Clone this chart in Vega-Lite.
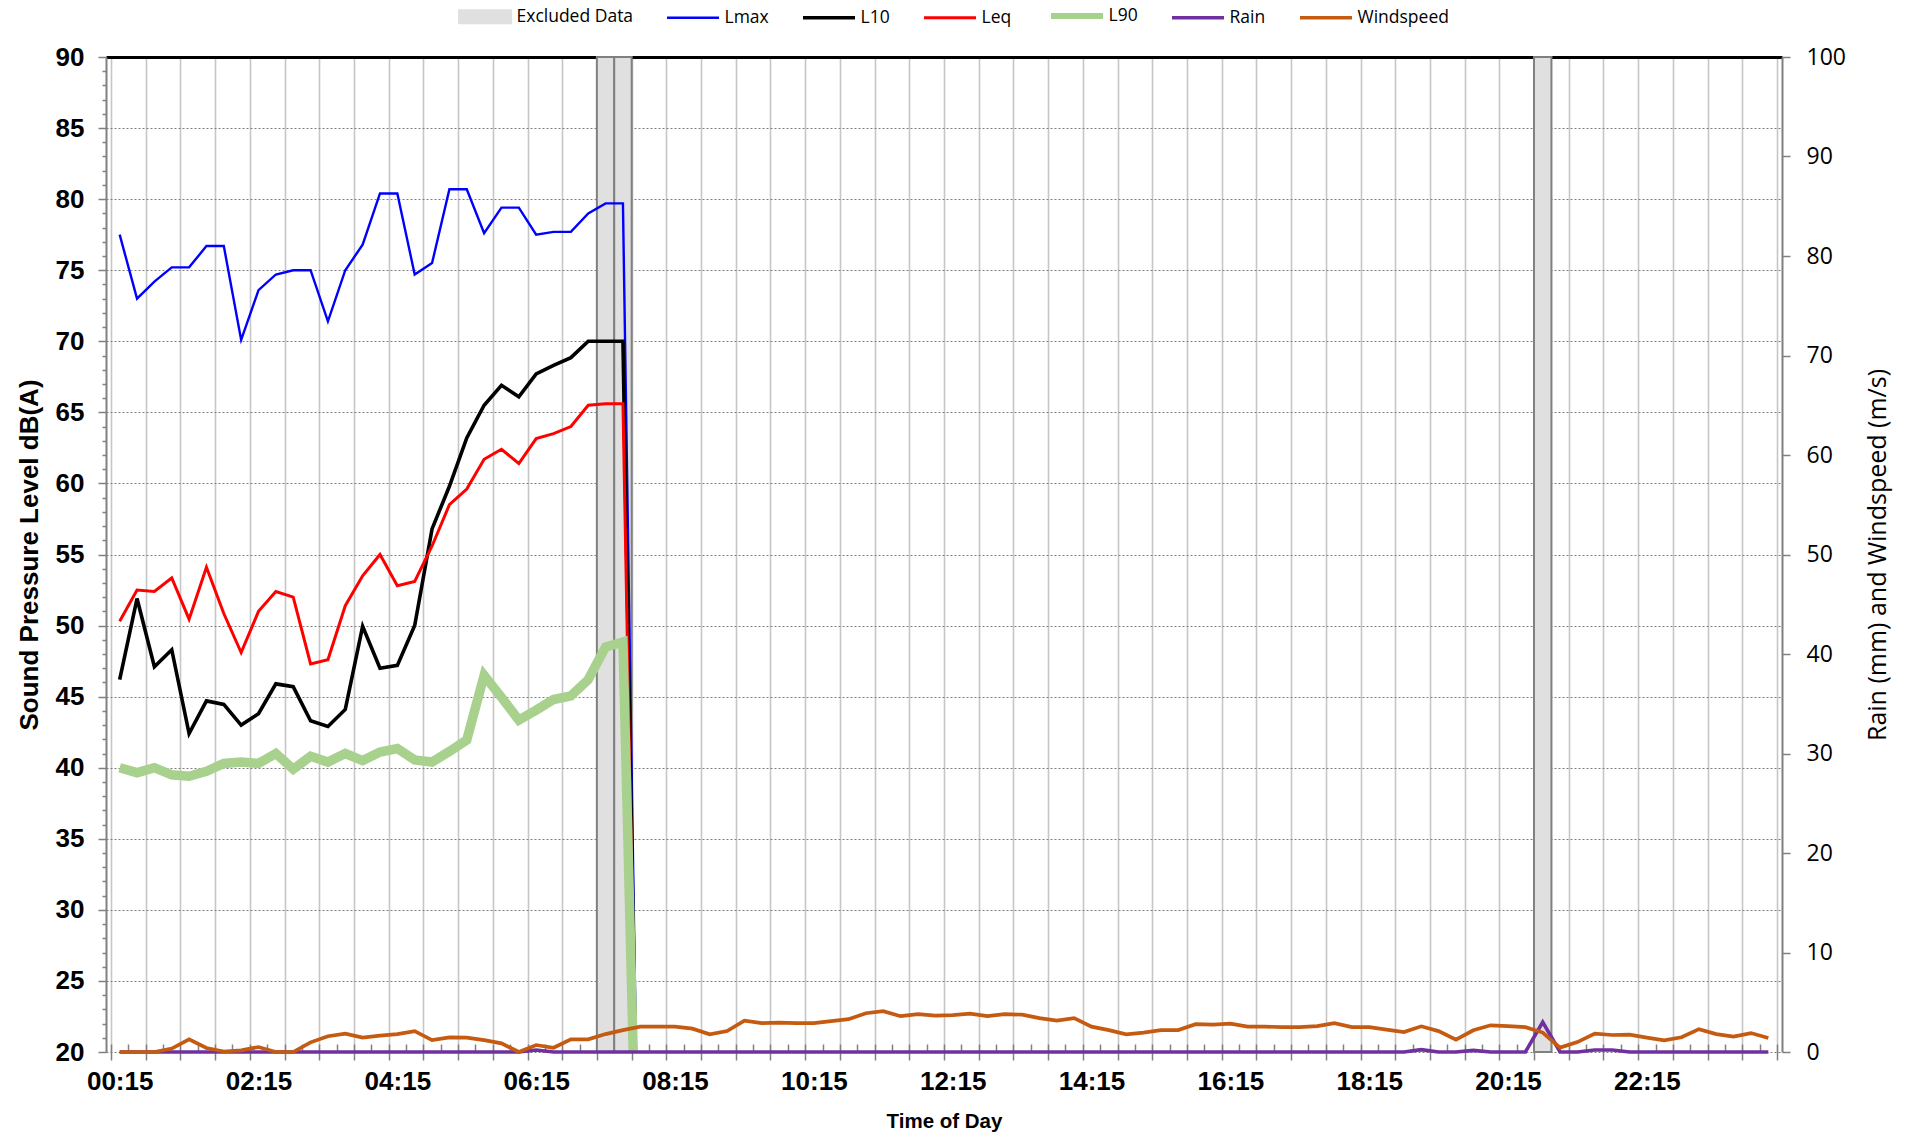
{
  "$schema": "https://vega.github.io/schema/vega-lite/v6.json",
  "width": 1676,
  "height": 995,
  "autosize": {"type": "none"},
  "padding": {"left": 106, "top": 57, "right": 123, "bottom": 88},
  "background": "white",
  "config": {"view": {"stroke": null}, "font": "Liberation Sans"},
  "data": {"values": [
    {"minute":15,"Lmax":77.5,"L10":46.2,"Leq":50.3,"L90":40,"Rain":0,"Windspeed":0},
    {"minute":30,"Lmax":73,"L10":51.9,"Leq":52.5,"L90":39.65,"Rain":0,"Windspeed":0},
    {"minute":45,"Lmax":74.2,"L10":47.1,"Leq":52.4,"L90":40,"Rain":0,"Windspeed":0},
    {"minute":60,"Lmax":75.2,"L10":48.3,"Leq":53.35,"L90":39.5,"Rain":0,"Windspeed":0.35},
    {"minute":75,"Lmax":75.2,"L10":42.4,"Leq":50.45,"L90":39.4,"Rain":0,"Windspeed":1.27},
    {"minute":90,"Lmax":76.7,"L10":44.7,"Leq":54.1,"L90":39.75,"Rain":0,"Windspeed":0.4},
    {"minute":105,"Lmax":76.7,"L10":44.45,"Leq":50.85,"L90":40.3,"Rain":0,"Windspeed":0.05},
    {"minute":120,"Lmax":70.1,"L10":43,"Leq":48.1,"L90":40.4,"Rain":0,"Windspeed":0.17},
    {"minute":135,"Lmax":73.6,"L10":43.8,"Leq":51,"L90":40.3,"Rain":0,"Windspeed":0.5},
    {"minute":150,"Lmax":74.7,"L10":45.9,"Leq":52.4,"L90":41,"Rain":0,"Windspeed":0},
    {"minute":165,"Lmax":75,"L10":45.7,"Leq":52,"L90":39.9,"Rain":0,"Windspeed":0},
    {"minute":180,"Lmax":75,"L10":43.3,"Leq":47.3,"L90":40.8,"Rain":0,"Windspeed":0.97},
    {"minute":195,"Lmax":71.4,"L10":42.9,"Leq":47.6,"L90":40.4,"Rain":0,"Windspeed":1.58},
    {"minute":210,"Lmax":75,"L10":44.1,"Leq":51.4,"L90":41,"Rain":0,"Windspeed":1.85},
    {"minute":225,"Lmax":76.8,"L10":49.95,"Leq":53.5,"L90":40.5,"Rain":0,"Windspeed":1.44},
    {"minute":240,"Lmax":80.4,"L10":47,"Leq":55,"L90":41.1,"Rain":0,"Windspeed":1.64},
    {"minute":255,"Lmax":80.4,"L10":47.2,"Leq":52.8,"L90":41.35,"Rain":0,"Windspeed":1.8},
    {"minute":270,"Lmax":74.7,"L10":50,"Leq":53.1,"L90":40.55,"Rain":0,"Windspeed":2.1},
    {"minute":285,"Lmax":75.5,"L10":56.8,"Leq":55.6,"L90":40.4,"Rain":0,"Windspeed":1.2},
    {"minute":300,"Lmax":80.7,"L10":59.8,"Leq":58.5,"L90":41.15,"Rain":0,"Windspeed":1.47},
    {"minute":315,"Lmax":80.7,"L10":63.2,"Leq":59.6,"L90":41.95,"Rain":0,"Windspeed":1.45},
    {"minute":330,"Lmax":77.6,"L10":65.5,"Leq":61.7,"L90":46.5,"Rain":0,"Windspeed":1.2},
    {"minute":345,"Lmax":79.4,"L10":66.9,"Leq":62.4,"L90":44.95,"Rain":0,"Windspeed":0.87},
    {"minute":360,"Lmax":79.4,"L10":66.1,"Leq":61.4,"L90":43.35,"Rain":0,"Windspeed":0},
    {"minute":375,"Lmax":77.5,"L10":67.7,"Leq":63.15,"L90":44.05,"Rain":0.2,"Windspeed":0.7},
    {"minute":390,"Lmax":77.7,"L10":68.3,"Leq":63.5,"L90":44.8,"Rain":0,"Windspeed":0.43},
    {"minute":405,"Lmax":77.7,"L10":68.85,"Leq":64,"L90":45.05,"Rain":0,"Windspeed":1.27},
    {"minute":420,"Lmax":79,"L10":70,"Leq":65.5,"L90":46.2,"Rain":0,"Windspeed":1.27},
    {"minute":435,"Lmax":79.7,"L10":70,"Leq":65.6,"L90":48.5,"Rain":0,"Windspeed":1.8,"Excluded":100},
    {"minute":450,"Lmax":79.7,"L10":70,"Leq":65.6,"L90":48.85,"Rain":0,"Windspeed":2.2,"Excluded":100},
    {"minute":465,"Lmax":0,"L10":0,"Leq":0,"L90":0,"Rain":0,"Windspeed":2.55},
    {"minute":480,"Lmax":0,"L10":0,"Leq":0,"L90":0,"Rain":0,"Windspeed":2.55},
    {"minute":495,"Lmax":0,"L10":0,"Leq":0,"L90":0,"Rain":0,"Windspeed":2.55},
    {"minute":510,"Lmax":0,"L10":0,"Leq":0,"L90":0,"Rain":0,"Windspeed":2.35},
    {"minute":525,"Lmax":0,"L10":0,"Leq":0,"L90":0,"Rain":0,"Windspeed":1.78},
    {"minute":540,"Lmax":0,"L10":0,"Leq":0,"L90":0,"Rain":0,"Windspeed":2.1},
    {"minute":555,"Lmax":0,"L10":0,"Leq":0,"L90":0,"Rain":0,"Windspeed":3.15},
    {"minute":570,"Lmax":0,"L10":0,"Leq":0,"L90":0,"Rain":0,"Windspeed":2.9},
    {"minute":585,"Lmax":0,"L10":0,"Leq":0,"L90":0,"Rain":0,"Windspeed":2.95},
    {"minute":600,"Lmax":0,"L10":0,"Leq":0,"L90":0,"Rain":0,"Windspeed":2.9},
    {"minute":615,"Lmax":0,"L10":0,"Leq":0,"L90":0,"Rain":0,"Windspeed":2.9},
    {"minute":630,"Lmax":0,"L10":0,"Leq":0,"L90":0,"Rain":0,"Windspeed":3.1},
    {"minute":645,"Lmax":0,"L10":0,"Leq":0,"L90":0,"Rain":0,"Windspeed":3.3},
    {"minute":660,"Lmax":0,"L10":0,"Leq":0,"L90":0,"Rain":0,"Windspeed":3.9},
    {"minute":675,"Lmax":0,"L10":0,"Leq":0,"L90":0,"Rain":0,"Windspeed":4.1},
    {"minute":690,"Lmax":0,"L10":0,"Leq":0,"L90":0,"Rain":0,"Windspeed":3.6},
    {"minute":705,"Lmax":0,"L10":0,"Leq":0,"L90":0,"Rain":0,"Windspeed":3.8},
    {"minute":720,"Lmax":0,"L10":0,"Leq":0,"L90":0,"Rain":0,"Windspeed":3.65},
    {"minute":735,"Lmax":0,"L10":0,"Leq":0,"L90":0,"Rain":0,"Windspeed":3.7},
    {"minute":750,"Lmax":0,"L10":0,"Leq":0,"L90":0,"Rain":0,"Windspeed":3.85},
    {"minute":765,"Lmax":0,"L10":0,"Leq":0,"L90":0,"Rain":0,"Windspeed":3.6},
    {"minute":780,"Lmax":0,"L10":0,"Leq":0,"L90":0,"Rain":0,"Windspeed":3.8},
    {"minute":795,"Lmax":0,"L10":0,"Leq":0,"L90":0,"Rain":0,"Windspeed":3.75},
    {"minute":810,"Lmax":0,"L10":0,"Leq":0,"L90":0,"Rain":0,"Windspeed":3.4},
    {"minute":825,"Lmax":0,"L10":0,"Leq":0,"L90":0,"Rain":0,"Windspeed":3.15},
    {"minute":840,"Lmax":0,"L10":0,"Leq":0,"L90":0,"Rain":0,"Windspeed":3.4},
    {"minute":855,"Lmax":0,"L10":0,"Leq":0,"L90":0,"Rain":0,"Windspeed":2.55},
    {"minute":870,"Lmax":0,"L10":0,"Leq":0,"L90":0,"Rain":0,"Windspeed":2.2},
    {"minute":885,"Lmax":0,"L10":0,"Leq":0,"L90":0,"Rain":0,"Windspeed":1.78},
    {"minute":900,"Lmax":0,"L10":0,"Leq":0,"L90":0,"Rain":0,"Windspeed":1.95},
    {"minute":915,"Lmax":0,"L10":0,"Leq":0,"L90":0,"Rain":0,"Windspeed":2.2},
    {"minute":930,"Lmax":0,"L10":0,"Leq":0,"L90":0,"Rain":0,"Windspeed":2.2},
    {"minute":945,"Lmax":0,"L10":0,"Leq":0,"L90":0,"Rain":0,"Windspeed":2.8},
    {"minute":960,"Lmax":0,"L10":0,"Leq":0,"L90":0,"Rain":0,"Windspeed":2.75},
    {"minute":975,"Lmax":0,"L10":0,"Leq":0,"L90":0,"Rain":0,"Windspeed":2.85},
    {"minute":990,"Lmax":0,"L10":0,"Leq":0,"L90":0,"Rain":0,"Windspeed":2.55},
    {"minute":1005,"Lmax":0,"L10":0,"Leq":0,"L90":0,"Rain":0,"Windspeed":2.55},
    {"minute":1020,"Lmax":0,"L10":0,"Leq":0,"L90":0,"Rain":0,"Windspeed":2.5},
    {"minute":1035,"Lmax":0,"L10":0,"Leq":0,"L90":0,"Rain":0,"Windspeed":2.5},
    {"minute":1050,"Lmax":0,"L10":0,"Leq":0,"L90":0,"Rain":0,"Windspeed":2.6},
    {"minute":1065,"Lmax":0,"L10":0,"Leq":0,"L90":0,"Rain":0,"Windspeed":2.9},
    {"minute":1080,"Lmax":0,"L10":0,"Leq":0,"L90":0,"Rain":0,"Windspeed":2.5},
    {"minute":1095,"Lmax":0,"L10":0,"Leq":0,"L90":0,"Rain":0,"Windspeed":2.5},
    {"minute":1110,"Lmax":0,"L10":0,"Leq":0,"L90":0,"Rain":0,"Windspeed":2.25},
    {"minute":1125,"Lmax":0,"L10":0,"Leq":0,"L90":0,"Rain":0,"Windspeed":2.0},
    {"minute":1140,"Lmax":0,"L10":0,"Leq":0,"L90":0,"Rain":0.23,"Windspeed":2.58},
    {"minute":1155,"Lmax":0,"L10":0,"Leq":0,"L90":0,"Rain":0,"Windspeed":2.1},
    {"minute":1170,"Lmax":0,"L10":0,"Leq":0,"L90":0,"Rain":0,"Windspeed":1.24},
    {"minute":1185,"Lmax":0,"L10":0,"Leq":0,"L90":0,"Rain":0.17,"Windspeed":2.18},
    {"minute":1200,"Lmax":0,"L10":0,"Leq":0,"L90":0,"Rain":0,"Windspeed":2.68},
    {"minute":1215,"Lmax":0,"L10":0,"Leq":0,"L90":0,"Rain":0,"Windspeed":2.6},
    {"minute":1230,"Lmax":0,"L10":0,"Leq":0,"L90":0,"Rain":0,"Windspeed":2.5},
    {"minute":1245,"Lmax":0,"L10":0,"Leq":0,"L90":0,"Rain":3.0,"Windspeed":1.95,"Excluded":100},
    {"minute":1260,"Lmax":0,"L10":0,"Leq":0,"L90":0,"Rain":0,"Windspeed":0.44},
    {"minute":1275,"Lmax":0,"L10":0,"Leq":0,"L90":0,"Rain":0,"Windspeed":1.0},
    {"minute":1290,"Lmax":0,"L10":0,"Leq":0,"L90":0,"Rain":0.2,"Windspeed":1.85},
    {"minute":1305,"Lmax":0,"L10":0,"Leq":0,"L90":0,"Rain":0.2,"Windspeed":1.71},
    {"minute":1320,"Lmax":0,"L10":0,"Leq":0,"L90":0,"Rain":0,"Windspeed":1.74},
    {"minute":1335,"Lmax":0,"L10":0,"Leq":0,"L90":0,"Rain":0,"Windspeed":1.44},
    {"minute":1350,"Lmax":0,"L10":0,"Leq":0,"L90":0,"Rain":0,"Windspeed":1.17},
    {"minute":1365,"Lmax":0,"L10":0,"Leq":0,"L90":0,"Rain":0,"Windspeed":1.48},
    {"minute":1380,"Lmax":0,"L10":0,"Leq":0,"L90":0,"Rain":0,"Windspeed":2.3},
    {"minute":1395,"Lmax":0,"L10":0,"Leq":0,"L90":0,"Rain":0,"Windspeed":1.8},
    {"minute":1410,"Lmax":0,"L10":0,"Leq":0,"L90":0,"Rain":0,"Windspeed":1.55},
    {"minute":1425,"Lmax":0,"L10":0,"Leq":0,"L90":0,"Rain":0,"Windspeed":1.9},
    {"minute":1440,"Lmax":0,"L10":0,"Leq":0,"L90":0,"Rain":0,"Windspeed":1.4}
  ]},
  "resolve": {"scale": {"y": "independent"}, "axis": {"x": "independent", "y": "independent"}},
  "layer": [
    {
      "transform": [{"filter": "isValid(datum.Excluded)"}],
      "mark": {"type": "bar", "width": 17.46, "fill": "#e0e0e0", "stroke": "#808080", "strokeWidth": 2},
      "encoding": {
        "x": {"field": "minute", "type": "quantitative",
          "scale": {"domain": [7.5, 1447.5], "nice": false, "zero": false},
          "axis": {"orient": "top", "title": null,
            "values": [7.5,37.5,67.5,97.5,127.5,157.5,187.5,217.5,247.5,277.5,307.5,337.5,367.5,397.5,427.5,457.5,487.5,517.5,547.5,577.5,607.5,637.5,667.5,697.5,727.5,757.5,787.5,817.5,847.5,877.5,907.5,937.5,967.5,997.5,1027.5,1057.5,1087.5,1117.5,1147.5,1177.5,1207.5,1237.5,1267.5,1297.5,1327.5,1357.5,1387.5,1417.5,1447.5],
            "grid": true, "gridColor": "#c6c6c6", "gridWidth": 1.6, "gridOpacity": 1,
            "ticks": false, "labels": false,
            "domain": true, "domainColor": "#000000", "domainWidth": 3}},
        "y": {"field": "Excluded", "type": "quantitative", "scale": {"domain": [0, 100], "nice": false}, "axis": null}
      }
    },
    {
      "transform": [{"fold": ["Lmax", "L10", "Leq", "L90"], "as": ["series", "level"]}],
      "mark": {"type": "line", "clip": true},
      "encoding": {
        "x": {"field": "minute", "type": "quantitative",
          "scale": {"domain": [7.5, 1447.5], "nice": false, "zero": false},
          "axis": {"orient": "bottom",
            "values": [15,135,255,375,495,615,735,855,975,1095,1215,1335],
            "labelExpr": "utcFormat(datum.value * 60000, '%H:%M')",
            "labelFont": "Liberation Sans", "labelFontWeight": "bold", "labelFontSize": 26, "labelColor": "#000000",
            "labelPadding": 16, "labelOverlap": false, "labelFlush": false, "labelBound": false,
            "ticks": false, "tickSize": 0, "grid": false, "domain": false,
            "title": "Time of Day", "titleFont": "Liberation Sans", "titleFontWeight": "bold", "titleFontSize": 20.5,
            "titleColor": "#000000", "titleY": 59, "titleBaseline": "top"}},
        "y": {"field": "level", "type": "quantitative",
          "scale": {"domain": [20, 90], "nice": false, "zero": false},
          "axis": {"orient": "left",
            "values": [20,21,22,23,24,25,26,27,28,29,30,31,32,33,34,35,36,37,38,39,40,41,42,43,44,45,46,47,48,49,50,51,52,53,54,55,56,57,58,59,60,61,62,63,64,65,66,67,68,69,70,71,72,73,74,75,76,77,78,79,80,81,82,83,84,85,86,87,88,89,90],
            "labelExpr": "datum.value % 5 === 0 ? datum.label : ''",
            "labelFont": "Liberation Sans", "labelFontWeight": "bold", "labelFontSize": 26, "labelColor": "#000000",
            "labelPadding": 14, "labelOverlap": false, "labelFlush": false, "labelBound": false,
            "tickSize": {"condition": {"test": "datum.value % 5 === 0", "value": 8}, "value": 4},
            "tickColor": "#808080", "tickWidth": 1.5,
            "grid": true,
            "gridOpacity": {"condition": {"test": "datum.value % 5 === 0", "value": 1}, "value": 0},
            "gridColor": "#7f7f7f", "gridDash": [2, 2], "gridWidth": 1.2,
            "domain": true, "domainColor": "#808080", "domainWidth": 2,
            "title": "Sound Pressure Level dB(A)", "titleFont": "Liberation Sans", "titleFontWeight": "bold",
            "titleFontSize": 26, "titleColor": "#000000", "titleAngle": 270, "titleX": -77, "titleY": 497.5,
            "titleAlign": "center", "titleBaseline": "middle"}},
        "color": {"field": "series", "type": "nominal",
          "scale": {"domain": ["Excluded Data", "Lmax", "L10", "Leq", "L90", "Rain", "Windspeed"],
                    "range": ["#e0e0e0", "#0000ff", "#000000", "#ff0000", "#a9d18e", "#7030a0", "#c55a11"]},
          "legend": {"orient": "none", "legendX": 351, "legendY": -69, "direction": "horizontal", "columns": 7,
            "title": null, "symbolType": "stroke", "symbolSize": 2704, "symbolStrokeWidth": 3,
            "labelFont": "Open Sans", "labelFontSize": 17.5, "labelColor": "#000000", "labelOffset": 3.5,
            "labelBaseline": "middle",
            "labelLimit": 400, "columnPadding": 27, "padding": 0,
            "encode": {"symbols": {"update": {
              "shape": {"signal": "(datum.value === 'Excluded Data' ? 'M-1,-0.25H1V0.25H-1Z' : 'stroke')"},
              "fill": {"signal": "(datum.value === 'Excluded Data' ? '#e0e0e0' : 'transparent')"},
              "stroke": {"signal": "(datum.value === 'Excluded Data' ? '#808080' : scale('color', datum.value))"},
              "strokeWidth": {"signal": "(datum.value === 'L90' ? 6 : datum.value === 'Lmax' ? 2.7 : datum.value === 'Excluded Data' ? 2 : datum.value === 'Leq' ? 3.2 : 3.5)"},
              "opacity": {"value": 1}}}}}},
        "strokeWidth": {"field": "series", "type": "nominal",
          "scale": {"type": "ordinal", "domain": ["Lmax", "L10", "Leq", "L90"], "range": [2.4, 3.6, 3.0, 9.5]},
          "legend": null}
      }
    },
    {
      "transform": [{"fold": ["Rain", "Windspeed"], "as": ["series", "value"]}],
      "mark": {"type": "line", "strokeWidth": 3.7},
      "encoding": {
        "x": {"field": "minute", "type": "quantitative",
          "scale": {"domain": [7.5, 1447.5], "nice": false, "zero": false},
          "axis": {"orient": "bottom", "offset": -8, "title": null,
            "values": [7.5,22.5,37.5,52.5,67.5,82.5,97.5,112.5,127.5,142.5,157.5,172.5,187.5,202.5,217.5,232.5,247.5,262.5,277.5,292.5,307.5,322.5,337.5,352.5,367.5,382.5,397.5,412.5,427.5,442.5,457.5,472.5,487.5,502.5,517.5,532.5,547.5,562.5,577.5,592.5,607.5,622.5,637.5,652.5,667.5,682.5,697.5,712.5,727.5,742.5,757.5,772.5,787.5,802.5,817.5,832.5,847.5,862.5,877.5,892.5,907.5,922.5,937.5,952.5,967.5,982.5,997.5,1012.5,1027.5,1042.5,1057.5,1072.5,1087.5,1102.5,1117.5,1132.5,1147.5,1162.5,1177.5,1192.5,1207.5,1222.5,1237.5,1252.5,1267.5,1282.5,1297.5,1312.5,1327.5,1342.5,1357.5,1372.5,1387.5,1402.5,1417.5,1432.5,1447.5],
            "grid": false, "labels": false, "domain": false, "ticks": true,
            "tickColor": "#808080", "tickWidth": 1.5,
            "tickSize": {"condition": {"test": "(datum.value - 7.5) % 30 === 0", "value": 16}, "value": 8}}},
        "y": {"field": "value", "type": "quantitative",
          "scale": {"domain": [0, 100], "nice": false, "zero": true},
          "axis": {"orient": "right", "values": [0,10,20,30,40,50,60,70,80,90,100],
            "grid": false, "tickSize": 8, "tickColor": "#808080", "tickWidth": 1.5,
            "domain": true, "domainColor": "#808080", "domainWidth": 2,
            "labelFont": "Open Sans", "labelFontSize": 23, "labelColor": "#000000", "labelPadding": 16,
            "labelOverlap": false, "labelFlush": false,
            "title": "Rain (mm) and Windspeed (m/s)", "titleFont": "Open Sans", "titleFontSize": 25,
            "titleFontWeight": "normal", "titleColor": "#000000", "titleAngle": 270, "titleX": 95.5, "titleY": 497.5,
            "titleAlign": "center", "titleBaseline": "middle"}},
        "color": {"field": "series", "type": "nominal"}
      }
    }
  ]
}
